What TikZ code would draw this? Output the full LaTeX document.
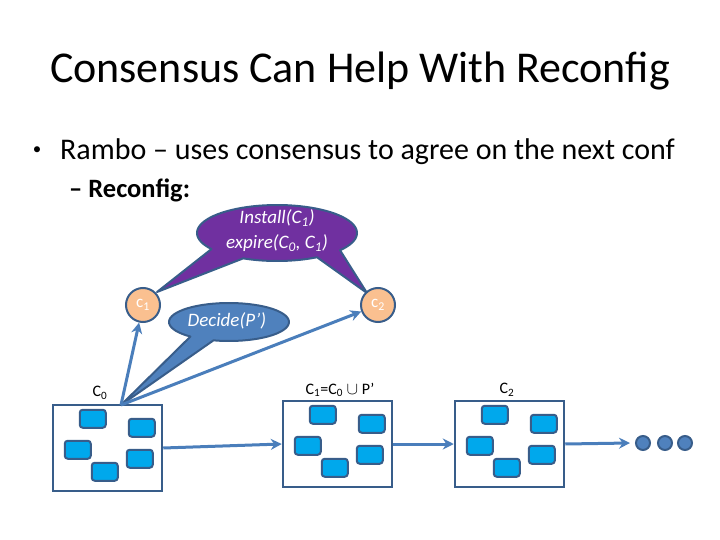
\documentclass[tikz,border=0pt]{standalone}
\usepackage{fontspec}
\setmainfont{Carlito}
\usetikzlibrary{arrows.meta}
\definecolor{edgeblue}{HTML}{385D8A}
\definecolor{linkblue}{HTML}{4A7EBB}
\definecolor{bubblepurple}{HTML}{7030A0}
\definecolor{bubbleblue}{HTML}{4F81BD}
\definecolor{nodepeach}{HTML}{FAC090}
\definecolor{cellblue}{HTML}{00A8EC}
\tikzset{
  confbox/.style={ draw=edgeblue, line width=2.5pt, minimum width=109pt, minimum height=86pt, inner sep=0pt },
  cell/.style={ draw=edgeblue, fill=cellblue, line width=2pt, rounded corners=3pt, minimum width=26pt, minimum height=18pt, inner sep=0pt },
  confnode/.style={ circle, draw=edgeblue, fill=nodepeach, line width=2pt, minimum size=34pt, inner sep=0pt, text=white, font=\fontsize{17}{19}\selectfont },
  link/.style={ draw=linkblue, line width=3pt, -{Stealth[length=11pt,width=11pt]} },
  bubble/.style={ draw=edgeblue, line width=2pt, line join=round },
  moredot/.style={ circle, draw=edgeblue, fill=bubbleblue, line width=2pt, minimum size=14pt, inner sep=0pt },
  lbl/.style={ font=\fontsize{16}{19}\selectfont },
  saying/.style={ text=white, align=center, font=\itshape\fontsize{19}{25}\selectfont }
}
\begin{document}
\begin{tikzpicture}[ x=1pt, y=-1pt ]
  \useasboundingbox (0,0) rectangle (720,540);
  \node [ anchor=base, font=\fontsize{44}{53}\selectfont ] (title) at (360,83) { Consensus Can Help With Reconfig };
  \node [ font=\fontsize{17}{20}\selectfont ] (dot) at (37,151) { • };
  \node [ anchor=base west, inner sep=0pt, font=\fontsize{30}{36}\selectfont ] (rambo) at (60,160) { Rambo – uses consensus to agree on the next conf };
  \node [ anchor=base west, inner sep=0pt, font=\bfseries\fontsize{26.5}{32}\selectfont ] (reconfig) at (69,197) { – Reconfig: };

  \draw [ bubble, fill=bubblepurple ] ({277+80*cos(145)},{233+28*sin(145)}) -- (157,292)
    -- plot [ domain=115:60, samples=20 ] ({277+80*cos(\x)},{233+28*sin(\x)}) -- (367,293)
    -- plot [ domain=38:-215, samples=60 ] ({277+80*cos(\x)},{233+28*sin(\x)}) -- cycle;
  \node [ saying ] (install) at (277,231) { Install(C\textsubscript{1})\\expire(C\textsubscript{0}, C\textsubscript{1}) };

  \draw [ bubble, fill=bubbleblue ] ({229+60*cos(130)},{322+19*sin(130)}) -- (121,405)
    -- plot [ domain=105:-230, samples=60 ] ({229+60*cos(\x)},{322+19*sin(\x)}) -- cycle;
  \node [ saying ] (decide) at (229,321) { Decide(P’) };

  \node [ confnode ] (ca) at (143,305) { c\textsubscript{1} };
  \node [ confnode ] (cb) at (378,305) { c\textsubscript{2} };

  \node [ confbox ] (boxa) at (107.5,448) {};
  \node [ confbox ] (boxb) at (337.5,444) {};
  \node [ confbox ] (boxc) at (509.5,444) {};

  \node [ cell ] (a1) at ([shift={(41,15)}]boxa.north west) {};
  \node [ cell ] (a2) at ([shift={(90,24)}]boxa.north west) {};
  \node [ cell ] (a3) at ([shift={(26,46)}]boxa.north west) {};
  \node [ cell ] (a4) at ([shift={(88,55)}]boxa.north west) {};
  \node [ cell ] (a5) at ([shift={(53,68)}]boxa.north west) {};
  \node [ cell ] (b1) at ([shift={(41,15)}]boxb.north west) {};
  \node [ cell ] (b2) at ([shift={(90,24)}]boxb.north west) {};
  \node [ cell ] (b3) at ([shift={(26,46)}]boxb.north west) {};
  \node [ cell ] (b4) at ([shift={(88,55)}]boxb.north west) {};
  \node [ cell ] (b5) at ([shift={(53,68)}]boxb.north west) {};
  \node [ cell ] (c1) at ([shift={(41,15)}]boxc.north west) {};
  \node [ cell ] (c2) at ([shift={(90,24)}]boxc.north west) {};
  \node [ cell ] (c3) at ([shift={(26,46)}]boxc.north west) {};
  \node [ cell ] (c4) at ([shift={(88,55)}]boxc.north west) {};
  \node [ cell ] (c5) at ([shift={(53,68)}]boxc.north west) {};

  \node [ lbl ] (lbla) at (100,393) { C\textsubscript{0} };
  \node [ lbl ] (lblb) at (340,390) { C\textsubscript{1}=C\textsubscript{0} $\cup$ P’ };
  \node [ lbl ] (lblc) at (507,390) { C\textsubscript{2} };

  \node [ moredot ] (d1) at (643,443) {};
  \node [ moredot ] (d2) at (665,443) {};
  \node [ moredot ] (d3) at (685,443) {};
  \coordinate (more) at (630,443);
  \coordinate (src) at (121,405);

  \draw [ link ] (src) -- (ca);
  \draw [ link ] (src) -- (cb);
  \draw [ link ] (boxa.east) -- (boxb.west);
  \draw [ link ] (boxb.east) -- (boxc.west);
  \draw [ link ] (boxc.east) -- (more);
\end{tikzpicture}
\end{document}
